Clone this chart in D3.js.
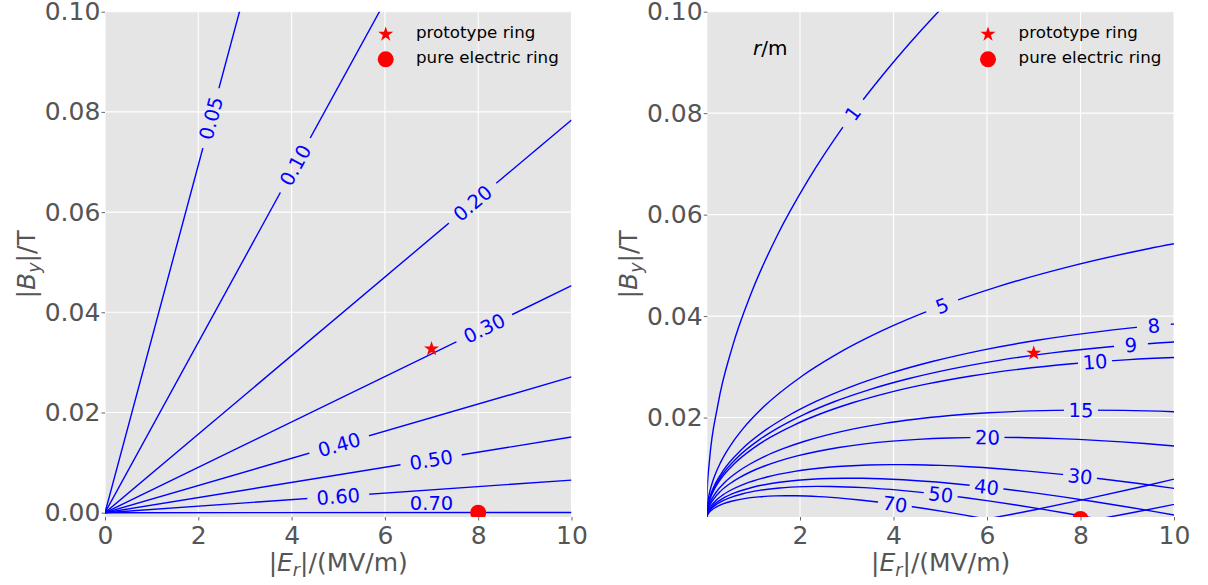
<!DOCTYPE html>
<html><head><meta charset="utf-8">
<script src="https://cdn.jsdelivr.net/npm/d3@7"></script>
<style>body{margin:0;background:#fff}svg{display:block}text{font-family:"DejaVu Sans",sans-serif}</style>
</head><body><svg id="c" width="1208" height="585"></svg>
<script>
// ---------- data ----------
// left panel: momentum contours p (GeV/c); straight lines through origin, |B| read at E = 10 MV/m
const momentumLabels = ["0.05","0.10","0.20","0.30","0.40","0.50","0.60","0.70"];
const momentumBAt10 = [0.3469,0.1700,0.0784,0.0453,0.0271,0.0151,0.0065,0.00004];
const momentumLabelE = [2.27,4.08,7.88,8.13,5.02,6.99,5.0,7.0];
const momentumLabelOnLine = [true,true,true,true,true,true,true,false];

// right panel: bending radius contours r (m), points [E (MV/m), |B| (T)]
const radiusLevels = ["1","5","8","9","10","15","20","30","40","50","70"];
const radiusLabelE = [3.13,5.04,9.57,9.08,8.31,8.01,6.01,7.99,5.99,5.01,4.03];
const radius1 = [[0,0],[0.0151,0.0056],[0.0602,0.0112],[0.2410,0.0224],[0.5423,0.0336],[0.9645,0.0447],[1.5076,0.0558],[2.1722,0.0668],[2.9585,0.0778],[3.8670,0.0886],[4.8983,0.0994],[6.0530,0.1100]];
const radius5 = [[0,0],[0.0030,0.00112],[0.0120,0.00224],[0.0482,0.00448],[0.1085,0.00671],[0.1929,0.00894],[0.3015,0.01116],[0.5917,0.01555],[0.7734,0.01772],[1.2106,0.02201],[2.0529,0.02825],[2.7407,0.03226],[3.7451,0.03707],[4.9138,0.04161],[6.2507,0.04585],[7.7605,0.04975],[9.4480,0.05328],[11.3188,0.05639]];
const radius8 = [[0,0],[0.0019,0.00070],[0.0075,0.00140],[0.0301,0.00280],[0.0678,0.00420],[0.1206,0.00559],[0.1885,0.00697],[0.3698,0.00972],[0.7566,0.01376],[1.2831,0.01766],[1.7129,0.02016],[2.3407,0.02317],[3.0711,0.02601],[3.9067,0.02866],[4.8503,0.03109],[5.9050,0.03330],[7.0742,0.03524],[8.3617,0.03690],[9.7713,0.03826],[11.3072,0.03928]];
const radius9 = [[0,0],[0.0017,0.00062],[0.0067,0.00124],[0.0268,0.00249],[0.0603,0.00373],[0.1072,0.00497],[0.1675,0.00620],[0.3287,0.00864],[0.6726,0.01223],[1.1405,0.01570],[1.5226,0.01792],[2.0806,0.02059],[2.7299,0.02312],[3.4726,0.02547],[4.3114,0.02764],[5.2489,0.02960],[6.2882,0.03133],[7.4326,0.03280],[8.6856,0.03401],[10.0509,0.03492],[11.5324,0.03552]];
const radius10 = [[0,0],[0.0015,0.00056],[0.0060,0.00112],[0.0241,0.00224],[0.0542,0.00336],[0.0964,0.00447],[0.1508,0.00558],[0.2958,0.00778],[0.6053,0.01100],[1.0265,0.01413],[1.3703,0.01613],[1.8726,0.01853],[2.4569,0.02080],[3.1254,0.02292],[3.8802,0.02488],[4.7240,0.02664],[5.6594,0.02819],[6.6893,0.02952],[7.8170,0.03061],[9.0458,0.03143],[10.3792,0.03197]];
const radius15 = [[0,0],[0.0010,0.00037],[0.0040,0.00075],[0.0161,0.00149],[0.0362,0.00224],[0.0643,0.00298],[0.1005,0.00372],[0.1972,0.00518],[0.4035,0.00734],[0.6843,0.00942],[0.9136,0.01075],[1.2484,0.01236],[1.6379,0.01387],[2.0836,0.01528],[2.5868,0.01658],[3.1493,0.01776],[3.7729,0.01880],[4.4596,0.01968],[5.2114,0.02040],[6.0305,0.02095],[6.9194,0.02131],[7.8805,0.02147],[8.9164,0.02141],[10.0296,0.02113],[11.2232,0.02061]];
const radius20 = [[0,0],[0.00075,0.00028],[0.0030,0.00056],[0.0121,0.00112],[0.0271,0.00168],[0.0482,0.00223],[0.0754,0.00279],[0.1479,0.00389],[0.3027,0.00550],[0.5132,0.00706],[0.6852,0.00807],[0.9363,0.00927],[1.2285,0.01040],[1.5627,0.01146],[1.9401,0.01244],[2.3620,0.01332],[2.8297,0.01410],[3.3447,0.01476],[3.9085,0.01530],[4.5229,0.01571],[5.1896,0.01598],[5.9104,0.01610],[6.6873,0.01606],[7.5222,0.01585],[8.4174,0.01546],[9.3748,0.01488],[10.3968,0.01410]];
const radius30 = [[0,0],[0.0005,0.00019],[0.0020,0.00037],[0.0080,0.00075],[0.0181,0.00112],[0.0321,0.00149],[0.0503,0.00186],[0.0986,0.00259],[0.2018,0.00367],[0.3422,0.00471],[0.4568,0.00538],[0.8190,0.00693],[1.2934,0.00829],[1.8865,0.00940],[2.6057,0.01020],[3.4597,0.01066],[3.9403,0.01073],[4.4582,0.01071],[5.0148,0.01057],[5.6116,0.01031],[6.2499,0.00992],[6.9312,0.00940],[7.6569,0.00875],[8.4288,0.00795],[9.2482,0.00700],[10.1169,0.00589]];
const radius40 = [[0,0],[0.0004,0.00014],[0.0015,0.00028],[0.0060,0.00056],[0.0136,0.00084],[0.0241,0.00112],[0.0377,0.00139],[0.0740,0.00194],[0.1513,0.00275],[0.2566,0.00353],[0.3426,0.00403],[0.6142,0.00520],[0.9701,0.00622],[1.4148,0.00705],[1.9543,0.00765],[2.5948,0.00799],[2.9552,0.00805],[3.3437,0.00803],[4.2087,0.00773],[5.1984,0.00705],[5.7427,0.00656],[6.3216,0.00596],[6.9362,0.00525],[7.5877,0.00442],[8.2772,0.00346],[9.0062,0.00238],[9.6186,0.00142],[10.4825,0]];
const radius50 = [[0,0],[0.0003,0.00011],[0.0012,0.00022],[0.0048,0.00045],[0.0108,0.00067],[0.0193,0.00089],[0.0302,0.00112],[0.0592,0.00156],[0.1211,0.00220],[0.2053,0.00283],[0.2741,0.00323],[0.4914,0.00416],[0.7760,0.00498],[1.1319,0.00564],[1.5634,0.00612],[2.0758,0.00639],[2.3642,0.00644],[2.6749,0.00642],[3.3670,0.00618],[4.1587,0.00564],[4.5942,0.00525],[5.0573,0.00477],[5.5489,0.00420],[6.0702,0.00353],[6.6218,0.00277],[7.2050,0.00191],[7.6949,0.00114],[8.3860,0],[9.1536,0.00133],[9.8729,0.00264],[11.4225,0.00563]];
const radius70 = [[0,0],[0.0002,0.00008],[0.0009,0.00016],[0.0034,0.00032],[0.0077,0.00048],[0.0138,0.00064],[0.0215,0.00080],[0.0423,0.00111],[0.0865,0.00157],[0.1466,0.00202],[0.1958,0.00230],[0.3510,0.00297],[0.5543,0.00355],[0.8085,0.00403],[1.1167,0.00437],[1.4827,0.00457],[1.6887,0.00460],[1.9107,0.00459],[2.4050,0.00442],[2.9705,0.00403],[3.2815,0.00375],[3.6123,0.00341],[3.9635,0.00300],[4.3358,0.00252],[4.7298,0.00198],[5.1464,0.00136],[5.4963,0.00081],[5.9900,0],[6.5383,0.00095],[7.0521,0.00189],[8.1589,0.00402],[9.3765,0.00651],[10.7109,0.00940]];
const radiusCurves = [radius1,radius5,radius8,radius9,radius10,radius15,radius20,radius30,radius40,radius50,radius70];

const prototypeRing = [7.0, 0.0327];
const pureElectricRing = [8.0, 0.0];
const legendLabels = ["prototype ring","pure electric ring"];
const leftXTicks = [0,2,4,6,8,10], leftYTicks = [0,0.02,0.04,0.06,0.08,0.10];
const rightXTicks = [2,4,6,8,10], rightYTicks = [0.02,0.04,0.06,0.08,0.10];

// ---------- drawing ----------
const TOP = 11.7, BOTTOM = 517;
const FONT = "DejaVu Sans";
const svg = d3.select("#c");
const defs = svg.append("defs");
const BLUE = "#0000ff", RED = "#ff0000", GREY = "#555555";

function makePanel(o){
  const x = d3.scaleLinear().domain(o.xDomain).range([o.left,o.right]);
  const y = d3.scaleLinear().domain(o.yDomain).range([BOTTOM,TOP]);
  const g = svg.append("g");
  g.append("rect").attr("x",o.left).attr("y",TOP).attr("width",o.right-o.left).attr("height",BOTTOM-TOP).attr("fill","#E5E5E5");
  const gv = g.append("g").attr("stroke","#fff").attr("stroke-width",1.1);
  gv.selectAll("line").data(o.xTicks).join("line").attr("x1",d=>x(d)).attr("x2",d=>x(d)).attr("y1",TOP).attr("y2",BOTTOM);
  const gh = g.append("g").attr("stroke","#fff").attr("stroke-width",1.1);
  gh.selectAll("line").data(o.yTicks).join("line").attr("y1",d=>y(d)).attr("y2",d=>y(d)).attr("x1",o.left).attr("x2",o.right);
  const ax = g.append("g").attr("transform",`translate(0,${BOTTOM})`)
    .call(d3.axisBottom(x).tickValues(o.xTicks).tickFormat(d3.format("d")).tickSize(3.5).tickPadding(5.25));
  const ay = g.append("g").attr("transform",`translate(${o.left},0)`)
    .call(d3.axisLeft(y).tickValues(o.yTicks).tickFormat(d3.format(".2f")).tickSize(3.5).tickPadding(1.2));
  [ax,ay].forEach(a=>{
    a.select(".domain").remove();
    a.selectAll(".tick line").attr("stroke",GREY).attr("stroke-width",0.9);
    a.selectAll(".tick text").attr("fill",GREY).attr("font-size",25).attr("font-family",FONT);
  });
  // x label |E_r|/(MV/m)
  const xl = g.append("text").attr("x",(o.left+o.right)/2).attr("y",571).attr("text-anchor","middle")
    .attr("font-size",25).attr("fill",GREY).attr("font-family",FONT);
  xl.append("tspan").text("|");
  xl.append("tspan").attr("font-style","italic").text("E");
  xl.append("tspan").attr("font-style","italic").attr("font-size",17.5).attr("dy",5).text("r");
  xl.append("tspan").attr("dy",-5).text("|/(MV/m)");
  // y label |B_y|/T
  const cy = (TOP+BOTTOM)/2, lx = o.left-70;
  const yl = g.append("text").attr("transform",`translate(${lx},${cy}) rotate(-90)`).attr("text-anchor","middle")
    .attr("font-size",25).attr("fill",GREY).attr("font-family",FONT);
  yl.append("tspan").text("|");
  yl.append("tspan").attr("font-style","italic").text("B");
  yl.append("tspan").attr("font-style","italic").attr("font-size",17.5).attr("dy",5).text("y");
  yl.append("tspan").attr("dy",-5).text("|/T");
  // clip
  const cid = "clip-"+o.id;
  defs.append("clipPath").attr("id",cid).append("rect").attr("x",o.left).attr("y",TOP).attr("width",o.right-o.left).attr("height",BOTTOM-TOP);
  const plot = g.append("g").attr("clip-path",`url(#${cid})`);
  return {x,y,g,plot,o};
}

function addMask(id, cx, cy, ang, w, h){
  const m = defs.append("mask").attr("id",id).attr("maskUnits","userSpaceOnUse")
    .attr("x",0).attr("y",0).attr("width",1208).attr("height",585);
  m.append("rect").attr("x",0).attr("y",0).attr("width",1208).attr("height",585).attr("fill","white");
  m.append("rect").attr("x",-w/2).attr("y",-h/2).attr("width",w).attr("height",h).attr("fill","black")
    .attr("transform",`translate(${cx},${cy}) rotate(${ang})`);
}

function markers(P){
  const star = d3.symbol(d3.symbolStar,70)();
  P.plot.append("path").attr("d",star).attr("fill",RED)
    .attr("transform",`translate(${P.x(prototypeRing[0])},${P.y(prototypeRing[1])})`);
  P.plot.append("circle").attr("cx",P.x(pureElectricRing[0])).attr("cy",P.y(pureElectricRing[1])).attr("r",8).attr("fill",RED);
}

function legend(P, mx, tx){
  const star = d3.symbol(d3.symbolStar,70)();
  P.g.append("path").attr("d",star).attr("fill",RED).attr("transform",`translate(${mx},34.3)`);
  P.g.append("circle").attr("cx",mx).attr("cy",59.3).attr("r",8).attr("fill",RED);
  P.g.selectAll("text.leg").data(legendLabels).join("text").attr("class","leg")
    .attr("x",tx).attr("y",(d,i)=>38+i*25).attr("font-size",16.7).attr("fill","#000").attr("font-family",FONT).text(d=>d);
}

// ---------- left panel ----------
const L = makePanel({id:"L",left:105,right:571.5,xDomain:[0,10],yDomain:[-0.00086,0.10],xTicks:leftXTicks,yTicks:leftYTicks});
const lineL = d3.line().x(d=>L.x(d[0])).y(d=>L.y(d[1]));
momentumLabels.forEach((lab,i)=>{
  const pts = [[0,0],[10,momentumBAt10[i]]];
  const ang = Math.atan2(L.y(pts[1][1])-L.y(0), L.x(10)-L.x(0))*180/Math.PI;
  const E = momentumLabelE[i], B = momentumBAt10[i]*E/10;
  let cx = L.x(E), cy = L.y(B);
  const grp = L.plot.append("g");
  if(momentumLabelOnLine[i]){
    addMask("mL"+i,cx,cy,ang,62,24);
    grp.attr("mask",`url(#mL${i})`);
  } else {
    cy -= 9.6;
  }
  grp.append("path").attr("d",lineL(pts)).attr("fill","none").attr("stroke",BLUE).attr("stroke-width",1.4);
  L.plot.append("text").attr("transform",`translate(${cx},${cy}) rotate(${momentumLabelOnLine[i]?ang:0})`)
    .attr("text-anchor","middle").attr("dy","0.36em").attr("font-size",19.5).attr("fill",BLUE).attr("font-family",FONT).text(lab);
});
markers(L);
legend(L,385.7,416);

// ---------- right panel ----------
const R = makePanel({id:"R",left:707.3,right:1174,xDomain:[0.017,10],yDomain:[0.0004,0.10],xTicks:rightXTicks,yTicks:rightYTicks});
const lineR = d3.line().x(d=>R.x(d[0])).y(d=>R.y(d[1])).curve(d3.curveMonotoneX);
function splitAtZeros(pts){
  const segs=[]; let cur=[pts[0]];
  for(let k=1;k<pts.length;k++){ cur.push(pts[k]); if(pts[k][1]===0 && k<pts.length-1){ segs.push(cur); cur=[pts[k]]; } }
  segs.push(cur); return segs;
}
function pointAtX(nodes, px){
  for(const node of nodes){
    const len = node.getTotalLength();
    const a = node.getPointAtLength(0), b = node.getPointAtLength(len);
    if(px < a.x || px > b.x) continue;
    let lo=0, hi=len;
    for(let k=0;k<40;k++){ const m=(lo+hi)/2; if(node.getPointAtLength(m).x<px) lo=m; else hi=m; }
    const p = node.getPointAtLength(lo);
    const p1 = node.getPointAtLength(Math.max(0,lo-5)), p2 = node.getPointAtLength(Math.min(len,lo+5));
    return {x:p.x, y:p.y, ang:Math.atan2(p2.y-p1.y,p2.x-p1.x)*180/Math.PI};
  }
  return null;
}
radiusCurves.forEach((pts,i)=>{
  const grp = R.plot.append("g");
  const nodes = splitAtZeros(pts).map(seg =>
    grp.append("path").attr("d",lineR(seg)).attr("fill","none").attr("stroke",BLUE).attr("stroke-width",1.4).node());
  const p = pointAtX(nodes, R.x(radiusLabelE[i]));
  if(p){
    addMask("mR"+i,p.x,p.y,p.ang,34,22);
    grp.attr("mask",`url(#mR${i})`);
    R.plot.append("text").attr("transform",`translate(${p.x},${p.y}) rotate(${p.ang})`)
      .attr("text-anchor","middle").attr("dy","0.36em").attr("font-size",19.5).attr("fill",BLUE).attr("font-family",FONT).text(radiusLevels[i]);
  }
});
markers(R);
legend(R,988,1018.6);
const rm = R.g.append("text").attr("x",753).attr("y",55).attr("font-size",20).attr("fill","#000").attr("font-family",FONT);
rm.append("tspan").attr("font-style","italic").text("r");
rm.append("tspan").text("/m");
</script>
</body></html>
